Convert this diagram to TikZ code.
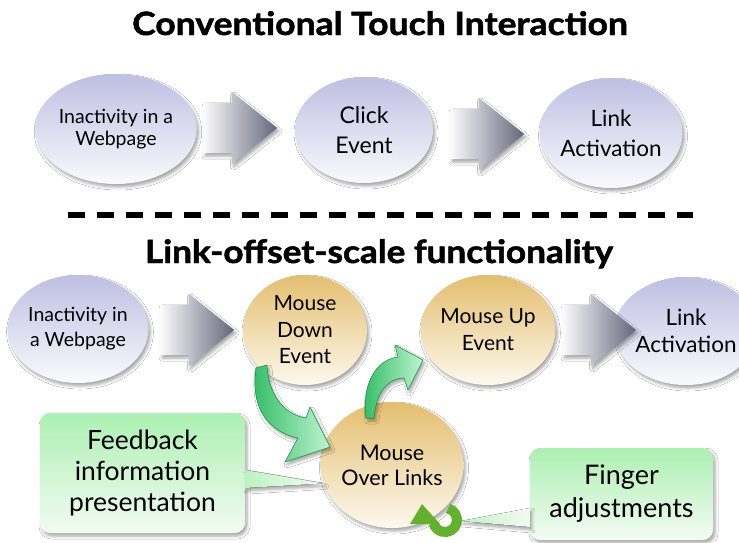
\documentclass[tikz,border=0pt]{standalone}
\usepackage{fontspec}
\setmainfont{Lato}
\newfontfamily\heavyfont{Lato}[BoldFeatures={FakeBold=1.5}]
\usetikzlibrary{shapes.geometric,shapes.arrows,shadows.blur,calc}

\definecolor{lavtop}{RGB}{190,191,226}
\definecolor{lavbot}{RGB}{250,250,253}
\definecolor{ortop}{RGB}{228,190,110}
\definecolor{orbot}{RGB}{253,249,238}
\definecolor{grtop}{RGB}{172,240,178}
\definecolor{grbot}{RGB}{243,251,243}
\definecolor{arrdark}{RGB}{100,102,122}
\definecolor{arrlight}{RGB}{252,252,253}
\definecolor{gdark}{RGB}{48,188,100}
\definecolor{glight}{RGB}{190,244,208}
\definecolor{gline}{RGB}{40,160,85}
\definecolor{ringgreen}{RGB}{98,178,46}

\begin{document}
\begin{tikzpicture}[x=1pt,y=-1pt,
  shadowed/.style={blur shadow={shadow xshift=2pt,shadow yshift=-3pt,shadow blur radius=3pt,shadow opacity=35}},
  lav/.style={ellipse,inner sep=0pt,align=center,top color=lavtop,bottom color=lavbot,shadowed},
  orb/.style={ellipse,inner sep=0pt,align=center,top color=ortop,bottom color=orbot,shadowed},
  callbox/.style={rectangle,rounded corners=10pt,inner sep=0pt,align=center,top color=grtop,bottom color=grbot,shadowed},
  grayarrow/.style={single arrow,anchor=tail,inner sep=0pt,minimum height=74pt,minimum width=72pt,
     single arrow head extend=11pt,single arrow tip angle=77,text height=25pt,text depth=25pt,
     left color=arrlight,right color=arrdark,shadowed},
  garrow/.style={left color=gdark,right color=glight,draw=gline,line width=0.6pt,shadowed},
  pointer/.style={left color=grtop!80,right color=grbot,shadowed},
  titlefont/.style={font=\fontsize{32}{36}\selectfont\heavyfont\bfseries}
]
\useasboundingbox[fill=white] (0,0) rectangle (739,542);

% titles
\node[titlefont,anchor=base] (t1) at (380,35) {\scalebox{1.11}[1]{Conventional Touch Interaction}};
\node[titlefont,anchor=base] (t2) at (379,263) {\scalebox{1.10}[1]{Link-offset-scale functionality}};

% separator
\coordinate (sepL) at (68,215);
\coordinate (sepR) at (693,215);
\draw[line width=6.5pt,dash pattern=on 17pt off 12pt] (sepL) -- (sepR);

% top row
\node[lav,minimum width=142pt,minimum height=110pt,font=\fontsize{19.5}{22}\selectfont] (e1) at (116,129) {Inactivity in a\\Webpage};
\node[lav,minimum width=138pt,minimum height=106pt,font=\fontsize{23}{30}\selectfont] (e2) at (364,130) {Click\\Event};
\node[lav,minimum width=138pt,minimum height=110pt,font=\fontsize{22.5}{30}\selectfont] (e3) at (611,133) {Link\\Activation};
\node[grayarrow] (a1) at (203,128) {};
\node[grayarrow] (a2) at (450,134) {};

% bottom row
\node[lav,minimum width=134pt,minimum height=108pt,font=\fontsize{19.5}{25}\selectfont] (e4) at (78,329) {Inactivity in\\a Webpage};
\node[orb,minimum width=124pt,minimum height=110pt,font=\fontsize{21}{26.5}\selectfont] (e5) at (305,330) {Mouse\\Down\\Event};
\node[orb,minimum width=126pt,minimum height=110pt,font=\fontsize{21}{27}\selectfont] (e6) at (488,330) {Mouse Up\\Event};
\node[lav,minimum width=108pt,minimum height=108pt,font=\fontsize{22.5}{27}\selectfont] (e7) at (686,331) {Link\\Activation};
\node[orb,minimum width=120pt,minimum height=126pt,font=\fontsize{21.5}{25}\selectfont] (e8) at (392,465) {Mouse\\Over Links};
\node[grayarrow] (a3) at (160,330) {};
\node[grayarrow] (a4) at (562,330) {};

% green curved arrows
\fill[garrow] (256,368) .. controls (250,410) and (270,432) .. (298,438) -- (285,462) -- (330,447) -- (310,407) -- (306,418) .. controls (285,415) and (268,395) .. (267,365) -- cycle;
\fill[garrow] (366,418) .. controls (362,385) and (375,360) .. (398,357) -- (395,345) -- (423,360) -- (408,390) -- (404,378) .. controls (388,378) and (376,392) .. (374,418) -- cycle;

% refresh icon
\coordinate (ring) at (445,520);
\draw[ringgreen,line width=10pt] ($(ring)+(-75:12)$) arc[start angle=-75,end angle=165,radius=12];
\fill[ringgreen] (410,524) -- (422,504) -- (440,524) -- cycle;

% callouts
\node[callbox,minimum width=205pt,minimum height=120pt,font=\fontsize{26.5}{31}\selectfont] (fb) at (142.5,473) {Feedback\\information\\presentation};
\fill[pointer] ([yshift=3pt]fb.east) -- (e8.195) -- ([yshift=-15pt]fb.east) -- cycle;
\node[callbox,minimum width=183pt,minimum height=92pt,font=\fontsize{27}{33}\selectfont] (fa) at (621.5,494) {Finger\\adjustments};
\coordinate (ringtip) at (461,521);
\fill[pointer] ([yshift=-14pt]fa.west) -- (ringtip) -- ([yshift=-33pt]fa.west) -- cycle;
\end{tikzpicture}
\end{document}
